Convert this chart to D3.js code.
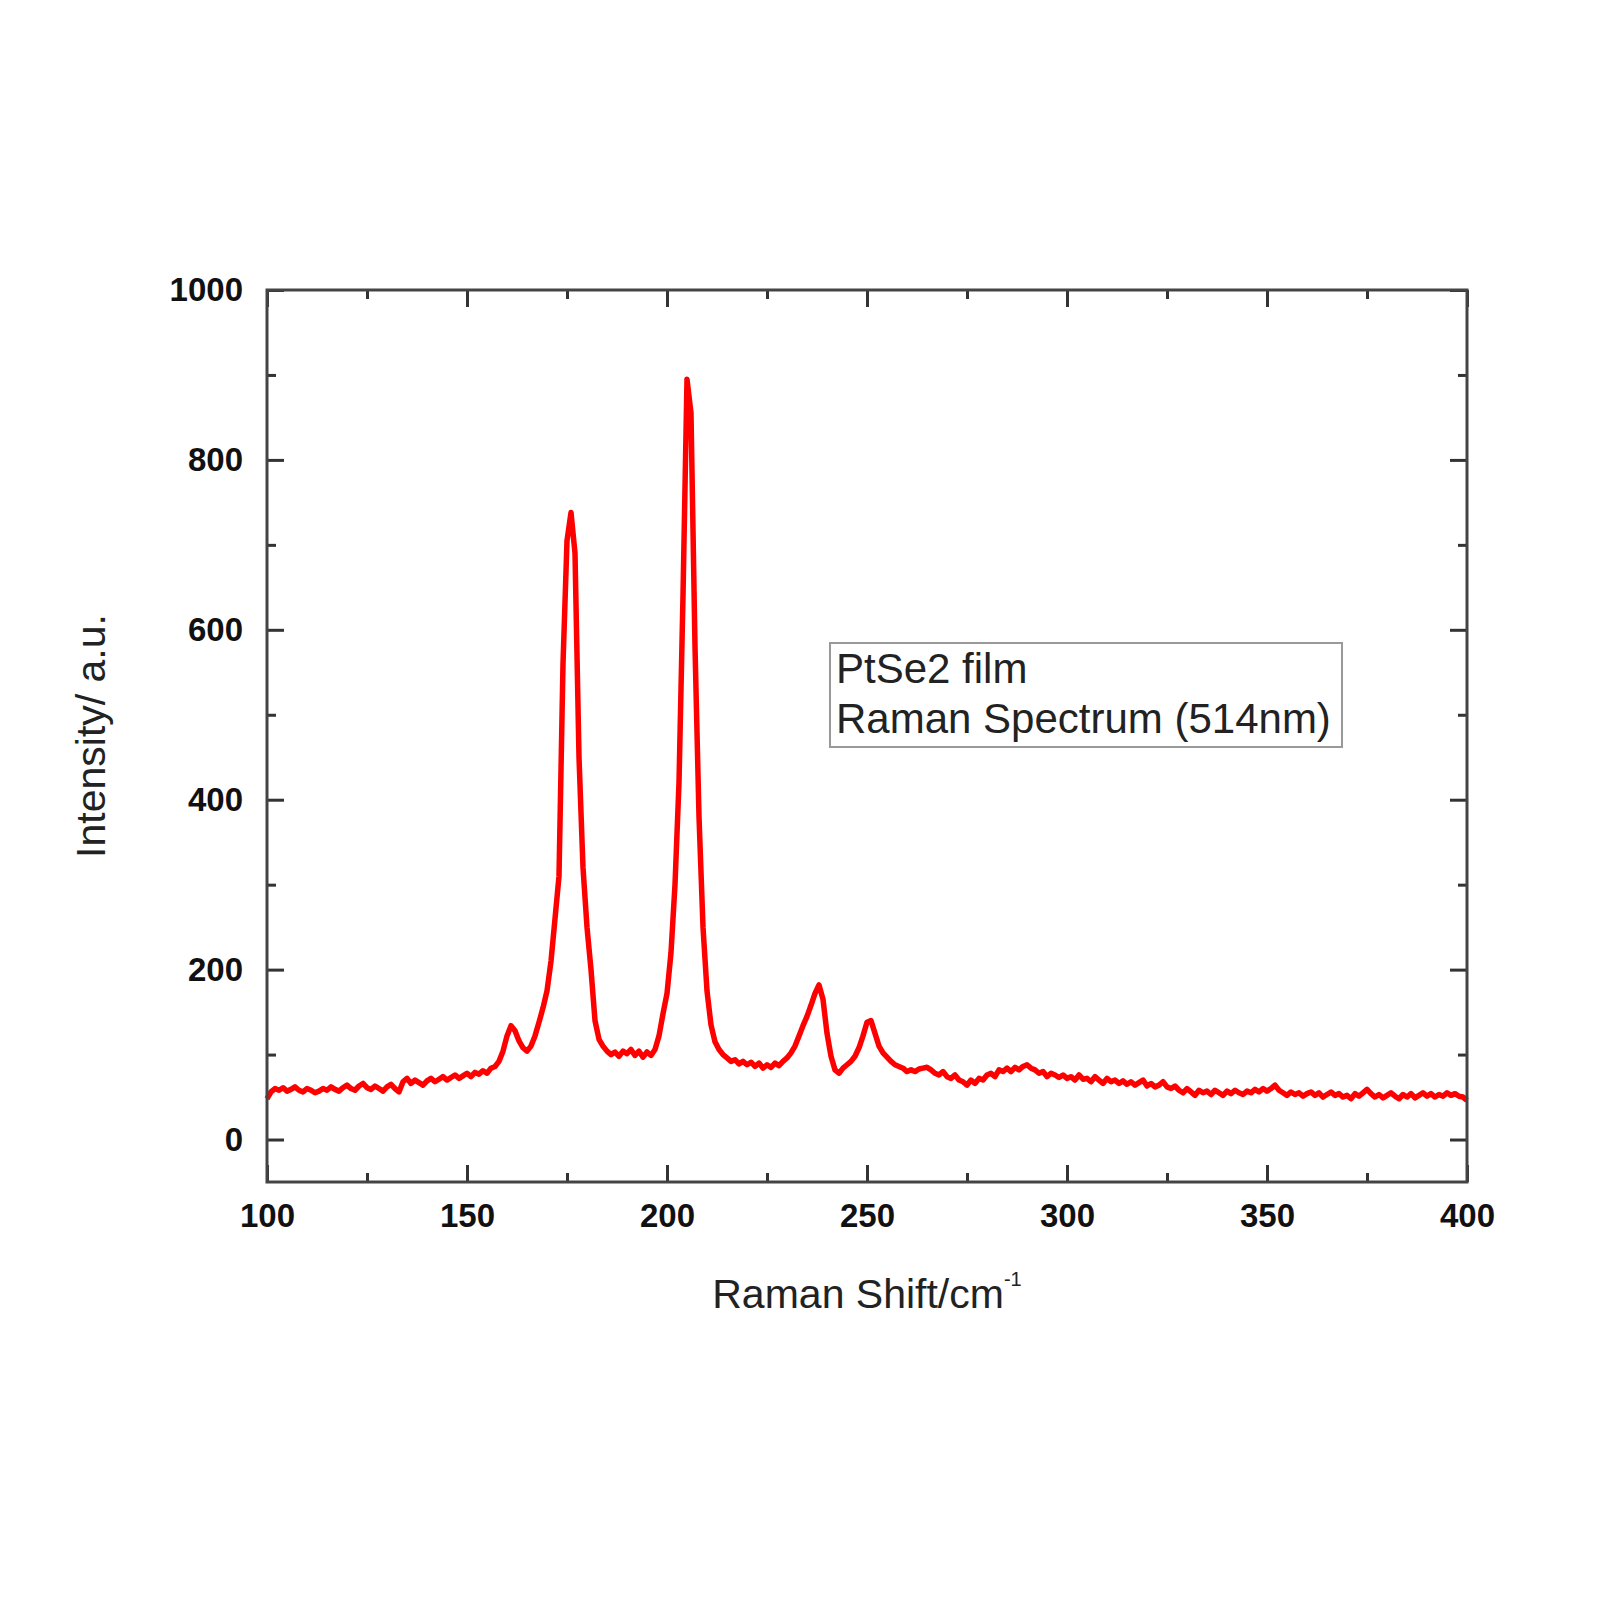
<!DOCTYPE html>
<html>
<head>
<meta charset="utf-8">
<script src="https://d3js.org/d3.v7.min.js"></script>
<style>
	body { margin: 0; background: #fff; }
	text { font-family: "Liberation Sans", Arial, sans-serif; }
</style>
</head>
<body>
<div id="chart"></div>
<script>
// Raman shift (cm-1), one reading per wavenumber
var ramanShift = d3.range(100, 401, 1);

// intensity, rows of ten starting at 100, 110, ...
var intensity = [
	48, 56, 60, 58, 61, 57, 59, 62, 58, 56,
	60, 58, 55, 57, 60, 58, 62, 59, 57, 61,
	64, 60, 58, 63, 66, 61, 59, 63, 60, 57,
	62, 65, 60, 56, 68, 72, 66, 70, 67, 64,
	69, 72, 68, 71, 74, 70, 73, 76, 72, 75,
	78, 74, 79, 77, 81, 78, 84, 86, 92, 104,
	122, 134, 128, 116, 108, 104, 110, 122, 138, 155,
	175, 210, 260, 310, 560, 705, 738, 690, 450, 320,
	250, 200, 140, 118, 110, 104, 100, 103, 98, 104,
	101, 106, 99, 104, 97, 103, 99, 106, 122, 148,
	172, 220, 300, 420, 640, 895, 855, 580, 380, 250,
	175, 135, 115, 106, 100, 96, 92, 94, 89, 92,
	88, 91, 86, 90, 84, 88, 85, 90, 87, 92,
	96, 102, 110, 122, 134, 145, 158, 172, 182, 165,
	125, 98, 82, 78, 84, 88, 92, 98, 108, 122,
	138, 140, 125, 110, 102, 97, 92, 88, 86, 84,
	80, 82, 80, 83, 84, 85, 82, 78, 76, 80,
	74, 72, 76, 70, 68, 64, 70, 66, 72, 70,
	76, 78, 74, 82, 80, 84, 80, 85, 82, 86,
	88, 84, 82, 78, 80, 74, 78, 76, 73, 76,
	72, 74, 70, 76, 71, 72, 68, 74, 70, 66,
	72, 68, 70, 66, 69, 65, 68, 64, 67, 70,
	63, 66, 62, 64, 68, 62, 60, 63, 58, 55,
	60, 56, 52, 58, 55, 57, 53, 58, 55, 52,
	57, 54, 58, 55, 53, 57, 55, 59, 56, 60,
	57, 60, 64, 58, 55, 52, 56, 53, 55, 51,
	54, 56, 52, 55, 50, 53, 56, 52, 54, 50,
	52, 48, 54, 51, 55, 59, 54, 50, 53, 49,
	52, 55, 51, 48, 53, 50, 54, 49, 52, 55,
	51, 54, 50, 53, 51, 55, 52, 54, 51, 50,
	46
];

var xMajor = [100, 150, 200, 250, 300, 350, 400];
var xMinor = [125, 175, 225, 275, 325, 375];
var yMajor = [0, 200, 400, 600, 800, 1000];
var yMinor = [100, 300, 500, 700, 900];
var legendLines = ["PtSe2 film", "Raman Spectrum (514nm)"];

var margin = { left: 267, right: 133, top: 290, bottom: 417 };
var width = 1600 - margin.left - margin.right;
var height = 1599 - margin.top - margin.bottom;

var svg = d3.select("#chart")
	.append("svg")
		.attr("width", 1600)
		.attr("height", 1599);

svg.append("rect")
	.attr("width", 1600)
	.attr("height", 1599)
	.attr("fill", "white");

var g = svg.append("g")
	.attr("transform", "translate(" + margin.left + "," + margin.top + ")");

var x = d3.scaleLinear().domain([100, 400]).range([0, width]);
var y = d3.scaleLinear().domain([-50, 1000]).range([height, 0]);

var points = ramanShift.map(function(d, i) {
	return { shift: d, value: intensity[i] };
});

// spectrum
var line = d3.line()
	.x(function(d) { return x(d.shift); })
	.y(function(d) { return y(d.value); });

g.append("path")
	.datum(points)
	.attr("fill", "none")
	.attr("stroke", "#ff0000")
	.attr("stroke-width", 5.5)
	.attr("stroke-linejoin", "round")
	.attr("d", line);

// ticks, all pointing inwards
function styleAxis(sel) {
	sel.select(".domain").remove();
	sel.selectAll(".tick line").attr("stroke", "#333").attr("stroke-width", 3);
	sel.selectAll("text")
		.attr("fill", "#111")
		.style("font-size", "33px")
		.style("font-weight", "bold");
}

g.append("g")
	.attr("transform", "translate(0," + height + ")")
	.call(d3.axisBottom(x).tickValues(xMajor).tickSize(-17).tickPadding(22).tickFormat(d3.format("d")))
	.call(styleAxis);
g.append("g")
	.attr("transform", "translate(0," + height + ")")
	.call(d3.axisBottom(x).tickValues(xMinor).tickSize(-9).tickFormat(""))
	.call(styleAxis);
g.append("g")
	.call(d3.axisTop(x).tickValues(xMajor).tickSize(-17).tickFormat(""))
	.call(styleAxis);
g.append("g")
	.call(d3.axisTop(x).tickValues(xMinor).tickSize(-9).tickFormat(""))
	.call(styleAxis);

g.append("g")
	.call(d3.axisLeft(y).tickValues(yMajor).tickSize(-17).tickPadding(24).tickFormat(d3.format("d")))
	.call(styleAxis);
g.append("g")
	.call(d3.axisLeft(y).tickValues(yMinor).tickSize(-9).tickFormat(""))
	.call(styleAxis);
g.append("g")
	.attr("transform", "translate(" + width + ",0)")
	.call(d3.axisRight(y).tickValues(yMajor).tickSize(-17).tickFormat(""))
	.call(styleAxis);
g.append("g")
	.attr("transform", "translate(" + width + ",0)")
	.call(d3.axisRight(y).tickValues(yMinor).tickSize(-9).tickFormat(""))
	.call(styleAxis);

// frame
g.append("rect")
	.attr("width", width)
	.attr("height", height)
	.attr("fill", "none")
	.attr("stroke", "#444")
	.attr("stroke-width", 3);

// axis titles
var xTitle = g.append("text")
	.attr("x", width / 2)
	.attr("y", height + 126)
	.attr("text-anchor", "middle")
	.attr("fill", "#222")
	.style("font-size", "41px");
xTitle.append("tspan").text("Raman Shift/cm");
xTitle.append("tspan")
	.attr("dy", -22)
	.style("font-size", "20px")
	.text("-1");

g.append("text")
	.attr("transform", "translate(" + (105 - margin.left) + "," + (height / 2) + ") rotate(-90)")
	.attr("text-anchor", "middle")
	.attr("fill", "#222")
	.style("font-size", "41px")
	.text("Intensity/ a.u.");

// legend box
var legend = svg.append("g")
	.attr("transform", "translate(830,643)");

legend.append("rect")
	.attr("width", 512)
	.attr("height", 104)
	.attr("fill", "white")
	.attr("stroke", "#999")
	.attr("stroke-width", 2);

legend.selectAll("text.lg")
	.data(legendLines)
	.enter()
	.append("text")
		.attr("class", "lg")
		.attr("x", 6)
		.attr("y", function(d, i) { return 40 + i * 50; })
		.attr("fill", "#222")
		.style("font-size", "42px")
		.text(function(d) { return d; });
</script>
</body>
</html>
